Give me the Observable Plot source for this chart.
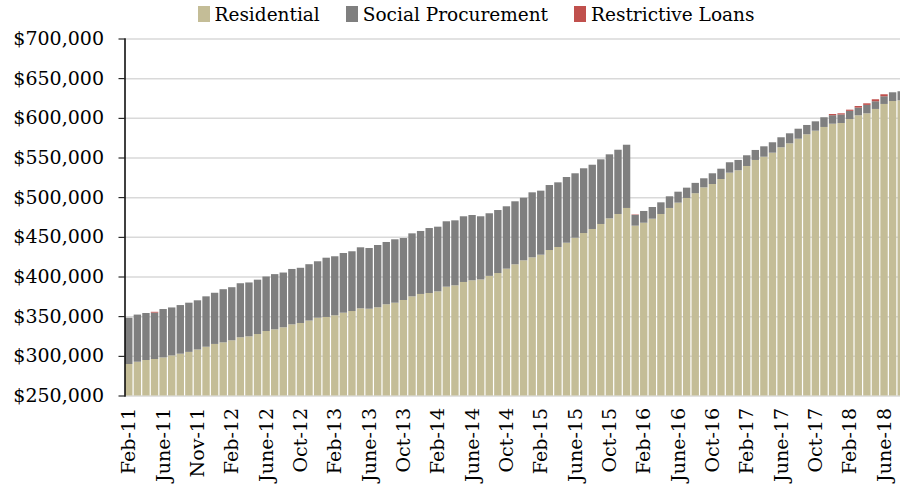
<!DOCTYPE html>
<html>
<head>
<meta charset="utf-8">
<script src="https://cdn.jsdelivr.net/npm/d3@7"></script>
<script src="https://cdn.jsdelivr.net/npm/@observablehq/plot@0.6"></script>
<style>
  body { margin: 0; background: #fff; font-family: "DejaVu Serif", serif; }
  #legend { height: 28px; display: flex; justify-content: center; align-items: center; font-size: 18.5px; color: #000; padding-left: 52px; box-sizing: border-box; width: 900px; }
  .item { display: flex; align-items: center; margin: 0 13px; }
  .sw { width: 12px; height: 16px; margin-right: 5px; display: inline-block; }
</style>
</head>
<body>
<div id="legend"></div>
<div id="chart"></div>
<script>
// Category tick labels (every 4th month shown)
const tickLabels = ["Feb-11","June-11","Nov-11","Feb-12","June-12","Oct-12","Feb-13","June-13","Oct-13","Feb-14","June-14","Oct-14","Feb-15","June-15","Oct-15","Feb-16","June-16","Oct-16","Feb-17","June-17","Oct-17","Feb-18","June-18"];

const seriesNames = ["Residential", "Social Procurement", "Restrictive Loans"];
const seriesColors = ["#c4bd97", "#7f7f7f", "#c0504d"];

// Values in thousands of dollars, one per month (Feb-11 .. Aug-18)
const residential = [289.7,292.6,294.7,296.0,298.0,300.5,302.7,305.0,308.0,311.5,315.0,317.0,319.6,323.4,324.6,327.5,331.3,333.4,336.0,339.7,341.4,344.5,348.1,349.0,351.1,354.4,356.5,359.9,359.4,361.2,365.0,367.0,370.4,375.0,378.0,379.2,381.3,387.2,388.9,393.1,395.2,396.3,400.8,404.4,409.9,415.4,420.4,424.2,427.5,433.4,437.2,442.6,448.9,454.8,459.9,466.2,473.3,478.8,486.4,464.1,467.8,472.9,478.8,486.4,493.1,499.0,505.0,512.4,516.6,522.9,530.9,533.9,539.3,546.9,551.0,556.1,562.9,567.9,573.7,579.3,583.8,588.5,592.6,593.5,598.5,603.2,605.7,611.2,617.5,621.2,622.1];
const social = [58.3,59.4,59.3,58.5,61.0,60.5,61.3,62.0,62.0,63.5,64.5,67.0,66.9,68.1,67.9,68.5,68.7,69.6,69.0,69.8,69.6,71.0,71.1,74.7,74.4,75.2,75.3,76.9,76.5,78.5,78.5,79.9,78.1,79.4,79.4,81.9,81.5,82.4,81.9,82.8,82.3,79.6,78.9,79.4,78.6,79.4,78.9,81.9,80.7,81.9,81.5,82.8,81.2,81.6,81.0,81.5,80.7,81.0,79.7,13.6,14.8,14.7,14.7,14.7,13.8,13.0,13.0,11.4,13.5,13.0,13.1,13.0,13.5,12.6,13.1,13.1,12.6,12.6,12.6,11.7,11.8,12.2,10.7,10.7,10.3,9.7,10.6,9.7,9.7,11.0,11.4];
const restrictive = [0,0,0,1.0,0,0,0,0,0,0,0,0,0,0,0,0,0,0,0,0,0,0,0,0,0,0,0,0,0,0,0,0,0,0,0,0,0,0,0,0,0,0,0,0,0,0,0,0,0,0,0,0,0,0,0,0,0,0,0,0.5,0,0,0,0,0,0,0,0,0,0,0,0,0,0,0,0,0,0,0,0,0,0,1.5,1.5,1.5,2.0,2.0,2.5,2.5,0,0];

const yMin = 250000, yMax = 700000, yStep = 50000;

// Build stacked rows
const rows = [];
residential.forEach((r, i) => {
  const a = r * 1000, b = a + social[i] * 1000, c = b + restrictive[i] * 1000;
  rows.push({i, series: seriesNames[0], y1: yMin, y2: a});
  rows.push({i, series: seriesNames[1], y1: a, y2: b});
  if (restrictive[i] > 0) rows.push({i, series: seriesNames[2], y1: b, y2: c});
});

// Legend
const legend = document.getElementById("legend");
seriesNames.forEach((n, k) => {
  const it = document.createElement("div");
  it.className = "item";
  it.innerHTML = `<span class="sw" style="background:${seriesColors[k]}"></span><span>${n}</span>`;
  legend.appendChild(it);
});

const chart = Plot.plot({
  width: 900,
  height: 467,
  marginTop: 10.5,
  marginBottom: 99.5,
  marginLeft: 124.5,
  marginRight: -5.5,
  style: {fontFamily: "DejaVu Serif", color: "#000", background: "#fff", overflow: "visible"},
  x: {type: "band", domain: d3.range(residential.length), paddingInner: 0.14, paddingOuter: 0.07, axis: null},
  y: {domain: [yMin, yMax], axis: null},
  color: {domain: seriesNames, range: seriesColors},
  marks: [
    Plot.gridY({ticks: d3.range(yMin, yMax + 1, yStep), stroke: "#d9d9d9", strokeOpacity: 1, strokeWidth: 1.5}),
    Plot.barY(rows, {x: "i", y1: "y1", y2: "y2", fill: "series"}),
    Plot.frame({anchor: "left", stroke: "#000", strokeWidth: 1.5}),
    Plot.axisY({ticks: d3.range(yMin, yMax + 1, yStep), tickFormat: d => "$" + d3.format(",")(d), tickSize: 6, tickPadding: 15, fontSize: 19, label: null}),
    Plot.axisX({ticks: d3.range(0, residential.length, 4), tickFormat: i => tickLabels[i / 4], tickRotate: -90, tickSize: 0, tickPadding: 12, fontSize: 19, label: null})
  ]
});
document.getElementById("chart").appendChild(chart);
</script>
</body>
</html>
